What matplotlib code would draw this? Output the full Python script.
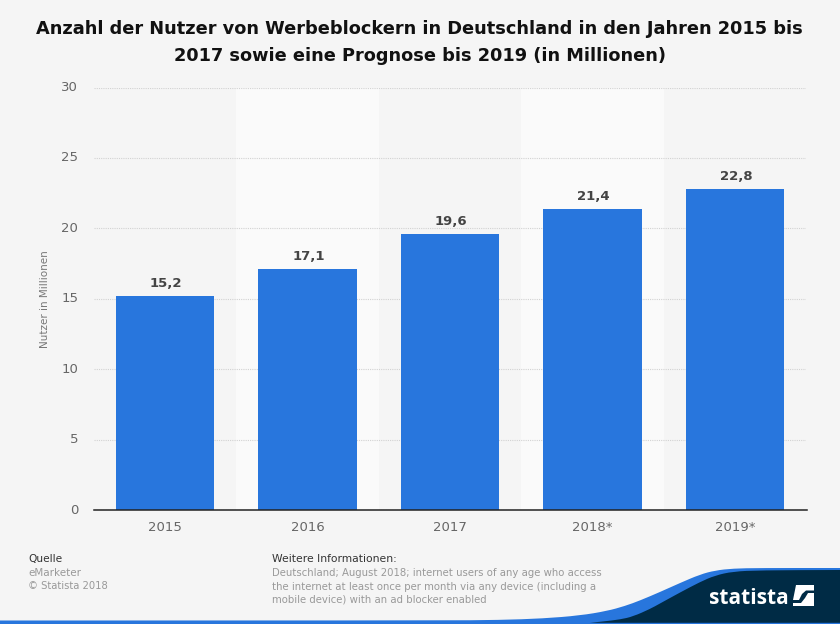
import matplotlib
matplotlib.use('Agg')
import matplotlib.pyplot as plt
from matplotlib.patches import PathPatch, Polygon
from matplotlib.path import Path
from matplotlib.transforms import ScaledTranslation

years = ['2015', '2016', '2017', '2018*', '2019*']
users = [15.2, 17.1, 19.6, 21.4, 22.8]
labels = ['15,2', '17,1', '19,6', '21,4', '22,8']
y_ticks = [0, 5, 10, 15, 20, 25, 30]

W, H = 840, 624
BG = '#f5f5f5'
BLUE = '#2876dd'
NAVY = '#002b45'

plt.rcParams['font.family'] = ['DejaVu Sans']

fig = plt.figure(figsize=(W / 100, H / 100), dpi=100, facecolor=BG)
ax = fig.add_axes([93.5 / W, 1 - 510 / H, 713 / W, 422.5 / H])
ax.set_facecolor(BG)

# helle Streifen hinter jeder zweiten Kategorie
for i in range(len(years)):
    if i % 2 == 1:
        ax.axvspan(i - 0.5, i + 0.5, color='#fafafa', lw=0, zorder=0)

ax.bar(range(len(years)), users, width=0.69, color=BLUE, zorder=3)
for i in range(len(years)):
    ax.annotate(labels[i], (i, users[i]), xytext=(1, 9), textcoords='offset pixels',
                ha='center', va='baseline', fontsize=9.5, fontweight='bold',
                color='#444444', zorder=4)

ax.set_xlim(-0.5, 4.5)
ax.set_ylim(0, 30)
ax.set_xticks(range(len(years)))
ax.set_xticklabels(years, fontsize=9.5, color='#666666')
ax.set_yticks(y_ticks)
ax.set_yticklabels([str(t) for t in y_ticks], fontsize=9.5, color='#666666')
ax.tick_params(axis='both', length=0)
ax.tick_params(axis='x', pad=8)
ax.tick_params(axis='y', pad=11)
for lab in ax.get_yticklabels():
    lab.set_transform(lab.get_transform() + ScaledTranslation(0, 1.5 / 100, fig.dpi_scale_trans))
ax.grid(axis='y', color='#d2d2d2', linestyle=(0, (1, 1)), linewidth=0.8, zorder=1)
ax.set_axisbelow(True)
for s in ['top', 'left', 'right']:
    ax.spines[s].set_visible(False)
ax.spines['bottom'].set_color('#222222')
ax.spines['bottom'].set_linewidth(1.1)
ax.spines['bottom'].set_zorder(5)
ax.set_ylabel('Nutzer in Millionen', fontsize=7.5, color='#777777')
ax.yaxis.set_label_coords((50 - 93.5) / 713, 0.5)

# Titel
fig.text(419.5 / W, 1 - 29 / H, 'Anzahl der Nutzer von Werbeblockern in Deutschland in den Jahren 2015 bis',
         ha='center', va='center', fontsize=12.77, fontweight='bold', color='#111111')
fig.text(419.5 / W, 1 - 56 / H, '2017 sowie eine Prognose bis 2019 (in Millionen)',
         ha='center', va='center', fontsize=12.77, fontweight='bold', color='#111111')

# Fusszeile
fig.text(28 / W, 1 - 559 / H, 'Quelle', fontsize=7.6, color='#333333', va='center')
fig.text(28 / W, 1 - 573 / H, 'eMarketer', fontsize=7.5, color='#999999', va='center')
fig.text(28 / W, 1 - 586 / H, '© Statista 2018', fontsize=7.2, color='#999999', va='center')
fig.text(272 / W, 1 - 559 / H, 'Weitere Informationen:', fontsize=7.75, color='#333333', va='center')
notes = ['Deutschland; August 2018; internet users of any age who access',
         'the internet at least once per month via any device (including a',
         'mobile device) with an ad blocker enabled']
for n, line in enumerate(notes):
    fig.text(272 / W, 1 - (573 + 13.5 * n) / H, line, fontsize=7.3, color='#999999', va='center')


def shape(points, color):
    verts = [(x / W, 1 - y / H) for x, y in points]
    fig.add_artist(Polygon(verts, transform=fig.transFigure, fc=color, ec='none'))


def curve(points, corners, color):
    # geglaettete Kante: Mittelpunkte als Stuetzstellen, Punkte als Kontrollpunkte
    verts = [points[0]]
    codes = [Path.MOVETO]
    for a, b in zip(points[1:-1], points[2:]):
        verts += [a, ((a[0] + b[0]) / 2, (a[1] + b[1]) / 2)]
        codes += [Path.CURVE3, Path.CURVE3]
    verts += [points[-1]] + corners + [points[0]]
    codes += [Path.LINETO] * (len(corners) + 1) + [Path.CLOSEPOLY]
    verts = [(x / W, 1 - y / H) for x, y in verts]
    fig.add_artist(PathPatch(Path(verts, codes), transform=fig.transFigure, fc=color, ec='none'))


# Welle unten rechts
curve([(0, 620.5), (440, 620.5), (500, 620), (543, 618.5), (580, 615.5), (607, 611), (625, 606), (640, 600.5),
       (660, 592), (680, 583), (700, 574.5), (715, 570.5), (733, 568.5), (760, 568), (840, 568)],
      [(840, 624), (0, 624)], BLUE)
curve([(590, 622.8), (603, 621.5), (620, 619.5), (633, 616.5), (650, 609), (660, 603.5), (680, 592.5),
       (700, 582), (715, 575.5), (733, 571.5), (760, 570.3), (840, 570)],
      [(840, 622.8)], NAVY)

# Logo
fig.text(709 / W, 1 - 604.5 / H, 'statista', fontsize=15, fontweight='bold', color='white',
         va='baseline', ha='left', family=['Open Sans', 'DejaVu Sans'])
shape([(796, 585), (814, 585), (814, 590.5), (806, 590.5), (802, 594), (799, 600), (793, 600)], 'white')
shape([(814, 593), (814, 606), (793, 606), (793, 603), (801, 603), (805, 598), (808, 593)], 'white')

fig.savefig('out.png', dpi=100, facecolor=BG)
